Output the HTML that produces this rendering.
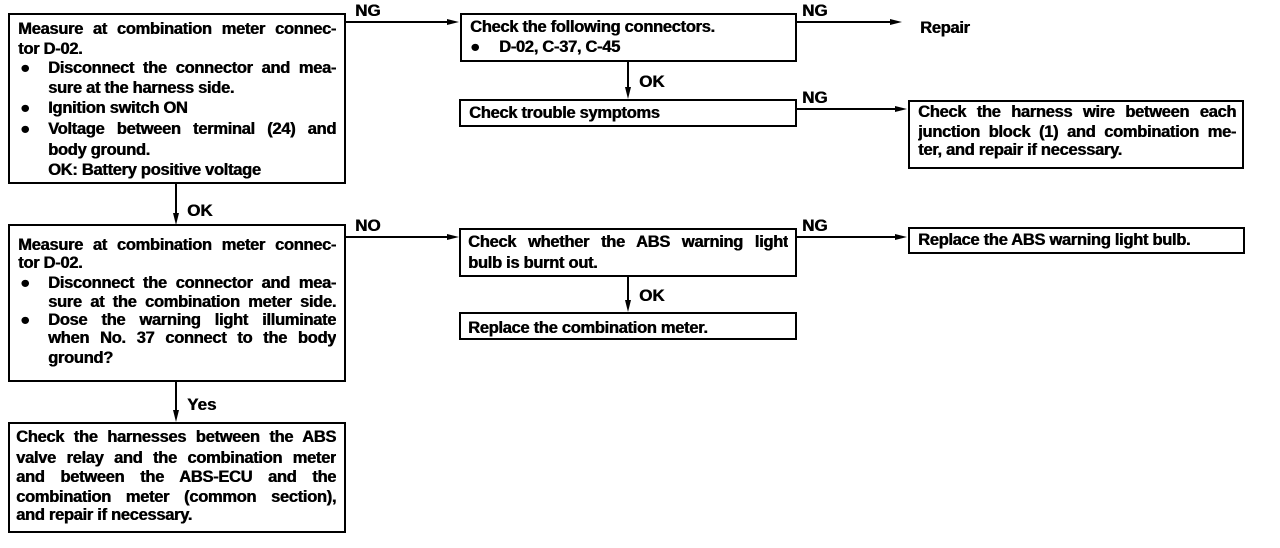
<!DOCTYPE html>
<html><head><meta charset="utf-8"><style>
html,body{margin:0;padding:0;background:#fff;}
#c{position:relative;width:1280px;height:548px;overflow:hidden;background:#fff;font-family:"Liberation Sans",Arial,sans-serif;font-weight:bold;font-size:16.5px;color:#000;letter-spacing:-0.3px;text-shadow:0.5px 0 0 #000;}
.b{position:absolute;border:2px solid #000;box-sizing:border-box;}
.t{position:absolute;white-space:nowrap;line-height:18px;height:18px;}
.j{text-align:justify;text-align-last:justify;white-space:normal;overflow:hidden;}
.l{position:absolute;font-size:17px;line-height:18px;letter-spacing:0;}
svg{position:absolute;left:0;top:0;}
</style></head><body><div id="c">
<svg width="1280" height="548">
<g stroke="#000" stroke-width="2" fill="none">
<line x1="345" y1="22" x2="452" y2="22"/>
<line x1="796" y1="22" x2="895" y2="22"/>
<line x1="796" y1="109" x2="900" y2="109"/>
<line x1="345" y1="237" x2="452" y2="237"/>
<line x1="796" y1="237" x2="900" y2="237"/>
<line x1="628" y1="61" x2="628" y2="92"/>
<line x1="628" y1="277" x2="628" y2="306"/>
<line x1="176" y1="184" x2="176" y2="218"/>
<line x1="176" y1="381" x2="176" y2="416"/>
</g>
<g fill="#000">
<polygon points="459,22 447,19 447,25"/>
<polygon points="902,22 890,19 890,25"/>
<polygon points="907,109 895,106 895,112"/>
<polygon points="459,237 447,234 447,240"/>
<polygon points="907,237 895,234 895,240"/>
<polygon points="628,99 625,87 631,87"/>
<polygon points="628,312 625,300 631,300"/>
<polygon points="176,225 173,213 179,213"/>
<polygon points="176,422 173,410 179,410"/>
</g>
</svg>

<div class="b" style="left:8px;top:13px;width:338px;height:171px;"></div>
<div class="t j" style="left:18px;top:20px;width:318px;">Measure at combination meter connec-</div>
<div class="t" style="left:18px;top:40px;">tor D-02.</div>
<div class="t" style="left:20px;top:59px;">●</div>
<div class="t j" style="left:48px;top:59px;width:288px;">Disconnect the connector and mea-</div>
<div class="t" style="left:48px;top:79px;">sure at the harness side.</div>
<div class="t" style="left:20px;top:99px;">●</div>
<div class="t" style="left:48px;top:99px;">Ignition switch ON</div>
<div class="t" style="left:20px;top:120px;">●</div>
<div class="t j" style="left:48px;top:120px;width:288px;">Voltage between terminal (24) and</div>
<div class="t" style="left:48px;top:141px;">body ground.</div>
<div class="t" style="left:48px;top:161px;">OK: Battery positive voltage</div>

<div class="b" style="left:8px;top:224px;width:338px;height:158px;"></div>
<div class="t j" style="left:18px;top:236px;width:318px;">Measure at combination meter connec-</div>
<div class="t" style="left:18px;top:254px;">tor D-02.</div>
<div class="t" style="left:20px;top:274px;">●</div>
<div class="t j" style="left:48px;top:274px;width:288px;">Disconnect the connector and mea-</div>
<div class="t j" style="left:48px;top:293px;width:288px;">sure at the combination meter side.</div>
<div class="t" style="left:20px;top:311px;">●</div>
<div class="t j" style="left:48px;top:311px;width:288px;">Dose the warning light illuminate</div>
<div class="t j" style="left:48px;top:329px;width:288px;">when No. 37 connect to the body</div>
<div class="t" style="left:48px;top:349px;">ground?</div>

<div class="b" style="left:8px;top:422px;width:338px;height:111px;"></div>
<div class="t j" style="left:16px;top:428px;width:320px;">Check the harnesses between the ABS</div>
<div class="t j" style="left:16px;top:449px;width:320px;">valve relay and the combination meter</div>
<div class="t j" style="left:16px;top:468px;width:320px;">and between the ABS-ECU and the</div>
<div class="t j" style="left:16px;top:488px;width:320px;">combination meter (common section),</div>
<div class="t" style="left:16px;top:506px;">and repair if necessary.</div>

<div class="b" style="left:460px;top:13px;width:337px;height:49px;"></div>
<div class="t" style="left:470px;top:18px;">Check the following connectors.</div>
<div class="t" style="left:470px;top:38px;">●</div>
<div class="t" style="left:499px;top:38px;">D-02, C-37, C-45</div>

<div class="b" style="left:459px;top:99px;width:338px;height:28px;"></div>
<div class="t" style="left:469px;top:104px;">Check trouble symptoms</div>

<div class="b" style="left:459px;top:228px;width:338px;height:49px;"></div>
<div class="t j" style="left:468px;top:233px;width:320px;">Check whether the ABS warning light</div>
<div class="t" style="left:468px;top:254px;">bulb is burnt out.</div>

<div class="b" style="left:459px;top:312px;width:338px;height:28px;"></div>
<div class="t" style="left:468px;top:319px;">Replace the combination meter.</div>

<div class="b" style="left:908px;top:100px;width:336px;height:69px;"></div>
<div class="t j" style="left:918px;top:103px;width:318px;">Check the harness wire between each</div>
<div class="t j" style="left:918px;top:123px;width:318px;">junction block (1) and combination me-</div>
<div class="t" style="left:918px;top:141px;">ter, and repair if necessary.</div>

<div class="b" style="left:908px;top:227px;width:337px;height:27px;"></div>
<div class="t" style="left:918px;top:231px;">Replace the ABS warning light bulb.</div>

<div class="t" style="left:920px;top:19px;">Repair</div>

<div class="l" style="left:355px;top:2px;">NG</div>
<div class="l" style="left:802px;top:2px;">NG</div>
<div class="l" style="left:802px;top:89px;">NG</div>
<div class="l" style="left:355px;top:217px;">NO</div>
<div class="l" style="left:802px;top:217px;">NG</div>
<div class="l" style="left:639px;top:73px;">OK</div>
<div class="l" style="left:639px;top:287px;">OK</div>
<div class="l" style="left:187px;top:202px;">OK</div>
<div class="l" style="left:187px;top:396px;">Yes</div>
</div></body></html>
